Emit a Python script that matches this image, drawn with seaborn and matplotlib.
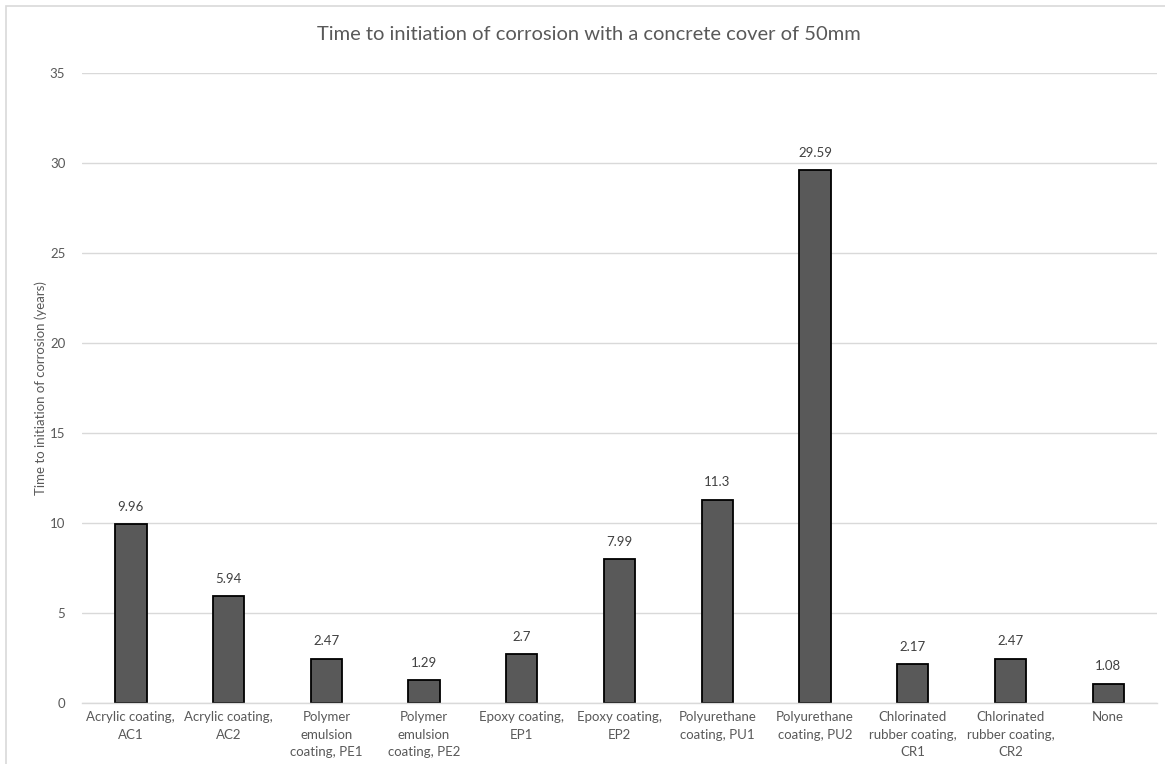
import matplotlib
matplotlib.use("Agg")
import matplotlib.pyplot as plt
import seaborn as sns
import pandas as pd
from matplotlib.patches import Rectangle

coatings = [
    "Acrylic coating,\nAC1",
    "Acrylic coating,\nAC2",
    "Polymer\nemulsion\ncoating, PE1",
    "Polymer\nemulsion\ncoating, PE2",
    "Epoxy coating,\nEP1",
    "Epoxy coating,\nEP2",
    "Polyurethane\ncoating, PU1",
    "Polyurethane\ncoating, PU2",
    "Chlorinated\nrubber coating,\nCR1",
    "Chlorinated\nrubber coating,\nCR2",
    "None",
]
years = [9.96, 5.94, 2.47, 1.29, 2.7, 7.99, 11.3, 29.59, 2.17, 2.47, 1.08]
value_labels = ["9.96", "5.94", "2.47", "1.29", "2.7", "7.99", "11.3", "29.59", "2.17", "2.47", "1.08"]
y_ticks = [0, 5, 10, 15, 20, 25, 30, 35]

df = pd.DataFrame({"coating": coatings, "years": years})

sns.set_theme(style="white")
plt.rcParams["font.family"] = ["Lato", "DejaVu Sans"]

W, H = 1165, 764
fig = plt.figure(figsize=(W / 100, H / 100), dpi=100)
ax = fig.add_axes([82 / W, 1 - 703 / H, (1157 - 82) / W, (703 - 73) / H])

text_grey = "#595959"
grid_grey = "#d9d9d9"

sns.barplot(data=df, x="coating", y="years", ax=ax, color="#595959",
            width=0.32, edgecolor="black", linewidth=1.3, saturation=1)

ax.set_ylim(0, 35)
ax.set_xlim(-0.5, len(coatings) - 0.5)
ax.set_yticks(y_ticks)
ax.set_yticklabels([str(t) for t in y_ticks])
ax.yaxis.grid(True, color=grid_grey, linewidth=1)
ax.set_axisbelow(True)
for side in ["left", "right", "top"]:
    ax.spines[side].set_visible(False)
ax.spines["bottom"].set_color(grid_grey)
ax.spines["bottom"].set_linewidth(1)
ax.tick_params(axis="both", length=0, colors=text_grey, labelsize=9.5)
ax.tick_params(axis="y", pad=12)
ax.tick_params(axis="x", pad=6)
for lbl in ax.get_xticklabels():
    lbl.set_linespacing(1.55)

for i, (v, s) in enumerate(zip(years, value_labels)):
    ax.annotate(s, (i, v), xytext=(0, 8), textcoords="offset points",
                ha="center", va="bottom", fontsize=9.5, color="#404040")

ax.set_xlabel("")
ax.set_ylabel("Time to initiation of corrosion (years)", fontsize=9.5, color=text_grey, labelpad=2)
fig.text(0.5 + 6 / W, 1 - 35 / H, "Time to initiation of corrosion with a concrete cover of 50mm",
         ha="center", va="center", fontsize=14.5, color=text_grey)

# light frame around the chart area
fig.patches.append(Rectangle((6 / W, -0.1), 1.2, 1.1 - 6 / H, transform=fig.transFigure,
                             fill=False, edgecolor=grid_grey, linewidth=1.2))

fig.savefig("out.png", dpi=100, facecolor="white")
